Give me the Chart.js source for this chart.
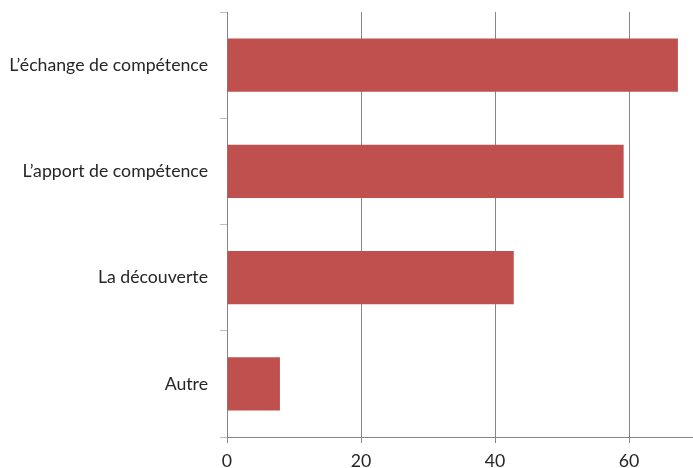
<!DOCTYPE html>
<html>
<head>
<meta charset="utf-8">
<script src="https://cdn.jsdelivr.net/npm/chart.js@4"></script>
<style>
  html, body { margin: 0; padding: 0; background: #fff; overflow: hidden; }
  #wrap { width: 696px; height: 468px; }
</style>
</head>
<body>
<div id="wrap"><canvas id="barChart" width="696" height="468"></canvas></div>
<script>
const categories = [
  "L’échange de compétence",
  "L’apport de compétence",
  "La découverte",
  "Autre",
];
const values = [67.3, 59.2, 42.8, 7.9];
const xTicks = [0, 20, 40, 60];

const ctx = document.getElementById("barChart").getContext("2d");

window.barChart = new Chart(ctx, {
  type: "bar",
  data: {
    labels: categories,
    datasets: [
      {
        data: values,
        backgroundColor: "#C0504D",
        borderWidth: 0,
        categoryPercentage: 0.5,
        barPercentage: 1,
      },
    ],
  },
  options: {
    indexAxis: "y",
    responsive: false,
    animation: false,
    layout: {
      padding: { top: 12, right: 0, bottom: 0, left: 0 },
    },
    plugins: {
      legend: { display: false },
      tooltip: { enabled: false },
    },
    scales: {
      x: {
        min: 0,
        max: 70,
        afterBuildTicks: (scale) => {
          scale.ticks = xTicks.map((v) => ({ value: v }));
        },
        // fixed band under the plot; the labels run slightly past the bottom edge
        afterFit: (scale) => {
          scale.height = 31;
        },
        grid: {
          color: "#868686",
          lineWidth: 1,
          tickLength: 6,
        },
        border: { color: "#868686" },
        ticks: {
          padding: 8,
          color: "#262626",
          font: { family: "Lato", size: 17.7 },
        },
      },
      y: {
        afterFit: (scale) => {
          scale.width = 227;
          scale.paddingTop = 0;
          scale.paddingBottom = 0;
        },
        grid: {
          drawOnChartArea: false,
          color: "#bdbdbd",
          tickLength: 7,
        },
        border: { color: "#868686" },
        ticks: {
          padding: 12,
          color: "#262626",
          font: { family: "Lato", size: 17.7 },
        },
      },
    },
  },
});
</script>
</body>
</html>
